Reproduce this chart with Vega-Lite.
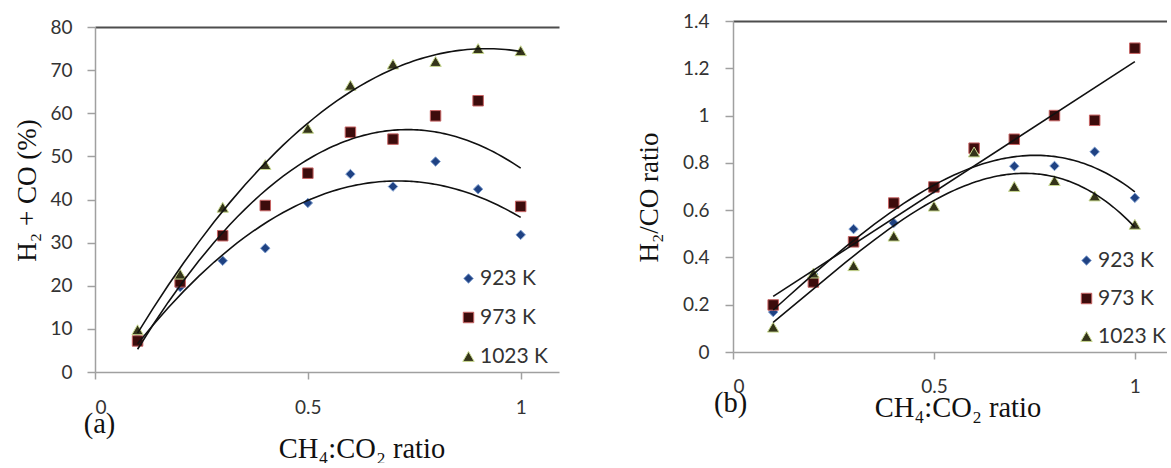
{
  "$schema": "https://vega.github.io/schema/vega-lite/v6.json",
  "padding": {"left": 13, "top": 12, "right": 0, "bottom": 0},
  "background": "white",
  "spacing": 76,
  "datasets": {
    "a": [
      {"T": "923 K", "x": 0.1, "y": 8.0}, {"T": "923 K", "x": 0.2, "y": 19.7}, {"T": "923 K", "x": 0.3, "y": 25.8}, {"T": "923 K", "x": 0.4, "y": 28.7}, {"T": "923 K", "x": 0.5, "y": 39.2}, {"T": "923 K", "x": 0.6, "y": 45.9}, {"T": "923 K", "x": 0.7, "y": 43.0}, {"T": "923 K", "x": 0.8, "y": 48.8}, {"T": "923 K", "x": 0.9, "y": 42.4}, {"T": "923 K", "x": 1.0, "y": 31.8},
      {"T": "973 K", "x": 0.1, "y": 7.2}, {"T": "973 K", "x": 0.2, "y": 20.9}, {"T": "973 K", "x": 0.3, "y": 31.6}, {"T": "973 K", "x": 0.4, "y": 38.6}, {"T": "973 K", "x": 0.5, "y": 46.1}, {"T": "973 K", "x": 0.6, "y": 55.6}, {"T": "973 K", "x": 0.7, "y": 54.0}, {"T": "973 K", "x": 0.8, "y": 59.4}, {"T": "973 K", "x": 0.9, "y": 62.9}, {"T": "973 K", "x": 1.0, "y": 38.4},
      {"T": "1023 K", "x": 0.1, "y": 9.8}, {"T": "1023 K", "x": 0.2, "y": 22.7}, {"T": "1023 K", "x": 0.3, "y": 38.2}, {"T": "1023 K", "x": 0.4, "y": 48.1}, {"T": "1023 K", "x": 0.5, "y": 56.5}, {"T": "1023 K", "x": 0.6, "y": 66.5}, {"T": "1023 K", "x": 0.7, "y": 71.4}, {"T": "1023 K", "x": 0.8, "y": 72.0}, {"T": "1023 K", "x": 0.9, "y": 75.0}, {"T": "1023 K", "x": 1.0, "y": 74.5}
    ],
    "b": [
      {"T": "923 K", "x": 0.1, "y": 0.169}, {"T": "923 K", "x": 0.2, "y": 0.33}, {"T": "923 K", "x": 0.3, "y": 0.52}, {"T": "923 K", "x": 0.4, "y": 0.546}, {"T": "923 K", "x": 0.5, "y": 0.69}, {"T": "923 K", "x": 0.6, "y": 0.85}, {"T": "923 K", "x": 0.7, "y": 0.786}, {"T": "923 K", "x": 0.8, "y": 0.787}, {"T": "923 K", "x": 0.9, "y": 0.847}, {"T": "923 K", "x": 1.0, "y": 0.652},
      {"T": "973 K", "x": 0.1, "y": 0.199}, {"T": "973 K", "x": 0.2, "y": 0.296}, {"T": "973 K", "x": 0.3, "y": 0.466}, {"T": "973 K", "x": 0.4, "y": 0.63}, {"T": "973 K", "x": 0.5, "y": 0.698}, {"T": "973 K", "x": 0.6, "y": 0.862}, {"T": "973 K", "x": 0.7, "y": 0.90}, {"T": "973 K", "x": 0.8, "y": 1.0}, {"T": "973 K", "x": 0.9, "y": 0.98}, {"T": "973 K", "x": 1.0, "y": 1.285},
      {"T": "1023 K", "x": 0.1, "y": 0.105}, {"T": "1023 K", "x": 0.2, "y": 0.334}, {"T": "1023 K", "x": 0.3, "y": 0.365}, {"T": "1023 K", "x": 0.4, "y": 0.49}, {"T": "1023 K", "x": 0.5, "y": 0.617}, {"T": "1023 K", "x": 0.6, "y": 0.846}, {"T": "1023 K", "x": 0.7, "y": 0.70}, {"T": "1023 K", "x": 0.8, "y": 0.725}, {"T": "1023 K", "x": 0.9, "y": 0.66}, {"T": "1023 K", "x": 1.0, "y": 0.54}
    ]
  },
  "hconcat": [
    {
      "width": 464,
      "height": 351,
      "data": {"name": "a"},
      "title": {"text": "CH₄:CO₂ ratio", "orient": "bottom", "anchor": "middle", "frame": "group", "dx": 35, "dy": -3, "offset": 0, "fontSize": 28.5},
      "layer": [
        {
          "mark": {"type": "point", "filled": true, "opacity": 1, "strokeWidth": 1},
          "encoding": {
            "x": {"field": "x", "type": "quantitative", "scale": {"domain": [0, 1.09], "nice": false, "zero": false},
              "axis": {"orient": "bottom", "values": [0, 0.5, 1], "format": ".2~f", "tickSize": 7, "labelPadding": 19, "title": "(a)", "titleX": 4, "titleY": 60, "titleBaseline": "alphabetic", "titleAlign": "center", "titleFontSize": 28.5}},
            "y": {"field": "y", "type": "quantitative", "scale": {"domain": [0, 80], "range": [351, 6], "nice": false},
              "axis": {"values": [0, 10, 20, 30, 40, 50, 60, 70, 80], "format": ".2~f", "tickSize": 8, "labelPadding": 15, "title": "H₂ + CO (%)", "titleX": -60, "titleY": 169, "titleBaseline": "alphabetic", "titleAlign": "center", "titleAngle": 270}},
            "shape": {"field": "T", "type": "nominal", "scale": {"domain": ["923 K", "973 K", "1023 K"], "range": ["diamond", "square", "triangle-up"]},
              "legend": {"title": null, "orient": "none", "legendX": 363, "legendY": 247, "rowPadding": 17, "labelOffset": 1, "padding": 0, "symbolStrokeWidth": 1}},
            "fill": {"field": "T", "type": "nominal", "scale": {"domain": ["923 K", "973 K", "1023 K"], "range": ["#1f4283", "#3d0c0c", "#34341a"]}},
            "stroke": {"field": "T", "type": "nominal", "scale": {"domain": ["923 K", "973 K", "1023 K"], "range": ["#7f9fd0", "#c86464", "#c8d890"]}},
            "size": {"field": "T", "type": "nominal", "scale": {"domain": ["923 K", "973 K", "1023 K"], "range": [90, 130, 100]}}
          }
        },
        {
          "transform": [{"regression": "y", "on": "x", "groupby": ["T"], "method": "poly", "order": 2}],
          "mark": {"type": "line", "color": "#111111", "strokeWidth": 1.6},
          "encoding": {
            "x": {"field": "x", "type": "quantitative", "axis": {"orient": "top", "labels": false, "ticks": false, "offset": -6, "domainColor": "#4d4d4d", "domainWidth": 2, "title": null}},
            "y": {"field": "y", "type": "quantitative"},
            "detail": {"field": "T"}
          }
        }
      ],
      "resolve": {"axis": {"x": "independent"}}
    },
    {
      "width": 434,
      "height": 331,
      "data": {"name": "b"},
      "title": {"text": "CH₄:CO₂ ratio", "orient": "bottom", "anchor": "middle", "frame": "group", "dx": 8, "dy": -23, "offset": 0, "fontSize": 28.5},
      "layer": [
        {
          "mark": {"type": "point", "filled": true, "opacity": 1, "strokeWidth": 1},
          "encoding": {
            "x": {"field": "x", "type": "quantitative", "scale": {"domain": [0, 1.08], "nice": false, "zero": false},
              "axis": {"orient": "bottom", "values": [0, 0.5, 1], "format": ".2~f", "tickSize": 7, "labelPadding": 18, "title": "(b)", "titleX": -3, "titleY": 59, "titleBaseline": "alphabetic", "titleAlign": "center", "titleFontSize": 28.5}},
            "y": {"field": "y", "type": "quantitative", "scale": {"domain": [0, 1.4], "nice": false},
              "axis": {"values": [0, 0.2, 0.4, 0.6, 0.8, 1, 1.2, 1.4], "format": ".2~f", "tickSize": 8, "labelPadding": 16, "title": "H₂/CO ratio", "titleX": -76, "titleY": 176, "titleBaseline": "alphabetic", "titleAlign": "center", "titleAngle": 270}},
            "shape": {"field": "T", "type": "nominal", "scale": {"domain": ["923 K", "973 K", "1023 K"], "range": ["diamond", "square", "triangle-up"]},
              "legend": {"title": null, "orient": "none", "legendX": 343, "legendY": 229, "rowPadding": 16, "labelOffset": 1, "padding": 0, "symbolStrokeWidth": 1}},
            "fill": {"field": "T", "type": "nominal", "scale": {"domain": ["923 K", "973 K", "1023 K"], "range": ["#1f4283", "#3d0c0c", "#34341a"]}},
            "stroke": {"field": "T", "type": "nominal", "scale": {"domain": ["923 K", "973 K", "1023 K"], "range": ["#7f9fd0", "#c86464", "#c8d890"]}},
            "size": {"field": "T", "type": "nominal", "scale": {"domain": ["923 K", "973 K", "1023 K"], "range": [90, 130, 100]}}
          }
        },
        {
          "transform": [{"filter": {"field": "T", "oneOf": ["923 K", "1023 K"]}}, {"regression": "y", "on": "x", "groupby": ["T"], "method": "poly", "order": 3}],
          "mark": {"type": "line", "color": "#111111", "strokeWidth": 1.6},
          "encoding": {
            "x": {"field": "x", "type": "quantitative", "axis": {"orient": "top", "labels": false, "ticks": false, "domainColor": "#4d4d4d", "domainWidth": 2, "title": null}},
            "y": {"field": "y", "type": "quantitative"},
            "detail": {"field": "T"}
          }
        },
        {
          "transform": [{"filter": {"field": "T", "equal": "973 K"}}, {"regression": "y", "on": "x", "groupby": ["T"], "method": "linear"}],
          "mark": {"type": "line", "color": "#111111", "strokeWidth": 1.6},
          "encoding": {
            "x": {"field": "x", "type": "quantitative", "axis": null},
            "y": {"field": "y", "type": "quantitative"},
            "detail": {"field": "T"}
          }
        }
      ],
      "resolve": {"axis": {"x": "independent"}}
    }
  ],
  "resolve": {"legend": {"shape": "independent", "fill": "independent", "stroke": "independent", "size": "independent"}},
  "config": {
    "view": {"stroke": null},
    "axis": {"grid": false, "labelFont": "Lato", "labelFontSize": 19, "labelColor": "#333333", "titleFont": "Liberation Serif", "titleFontSize": 27, "titleFontWeight": "normal", "titleColor": "#111111", "domainColor": "#a0a0a0", "tickColor": "#a0a0a0", "domainWidth": 1.5, "tickWidth": 1.5},
    "legend": {"labelFont": "Lato", "labelFontSize": 21, "labelColor": "#333333"},
    "title": {"font": "Liberation Serif", "fontSize": 27, "fontWeight": "normal", "color": "#111111"}
  }
}
